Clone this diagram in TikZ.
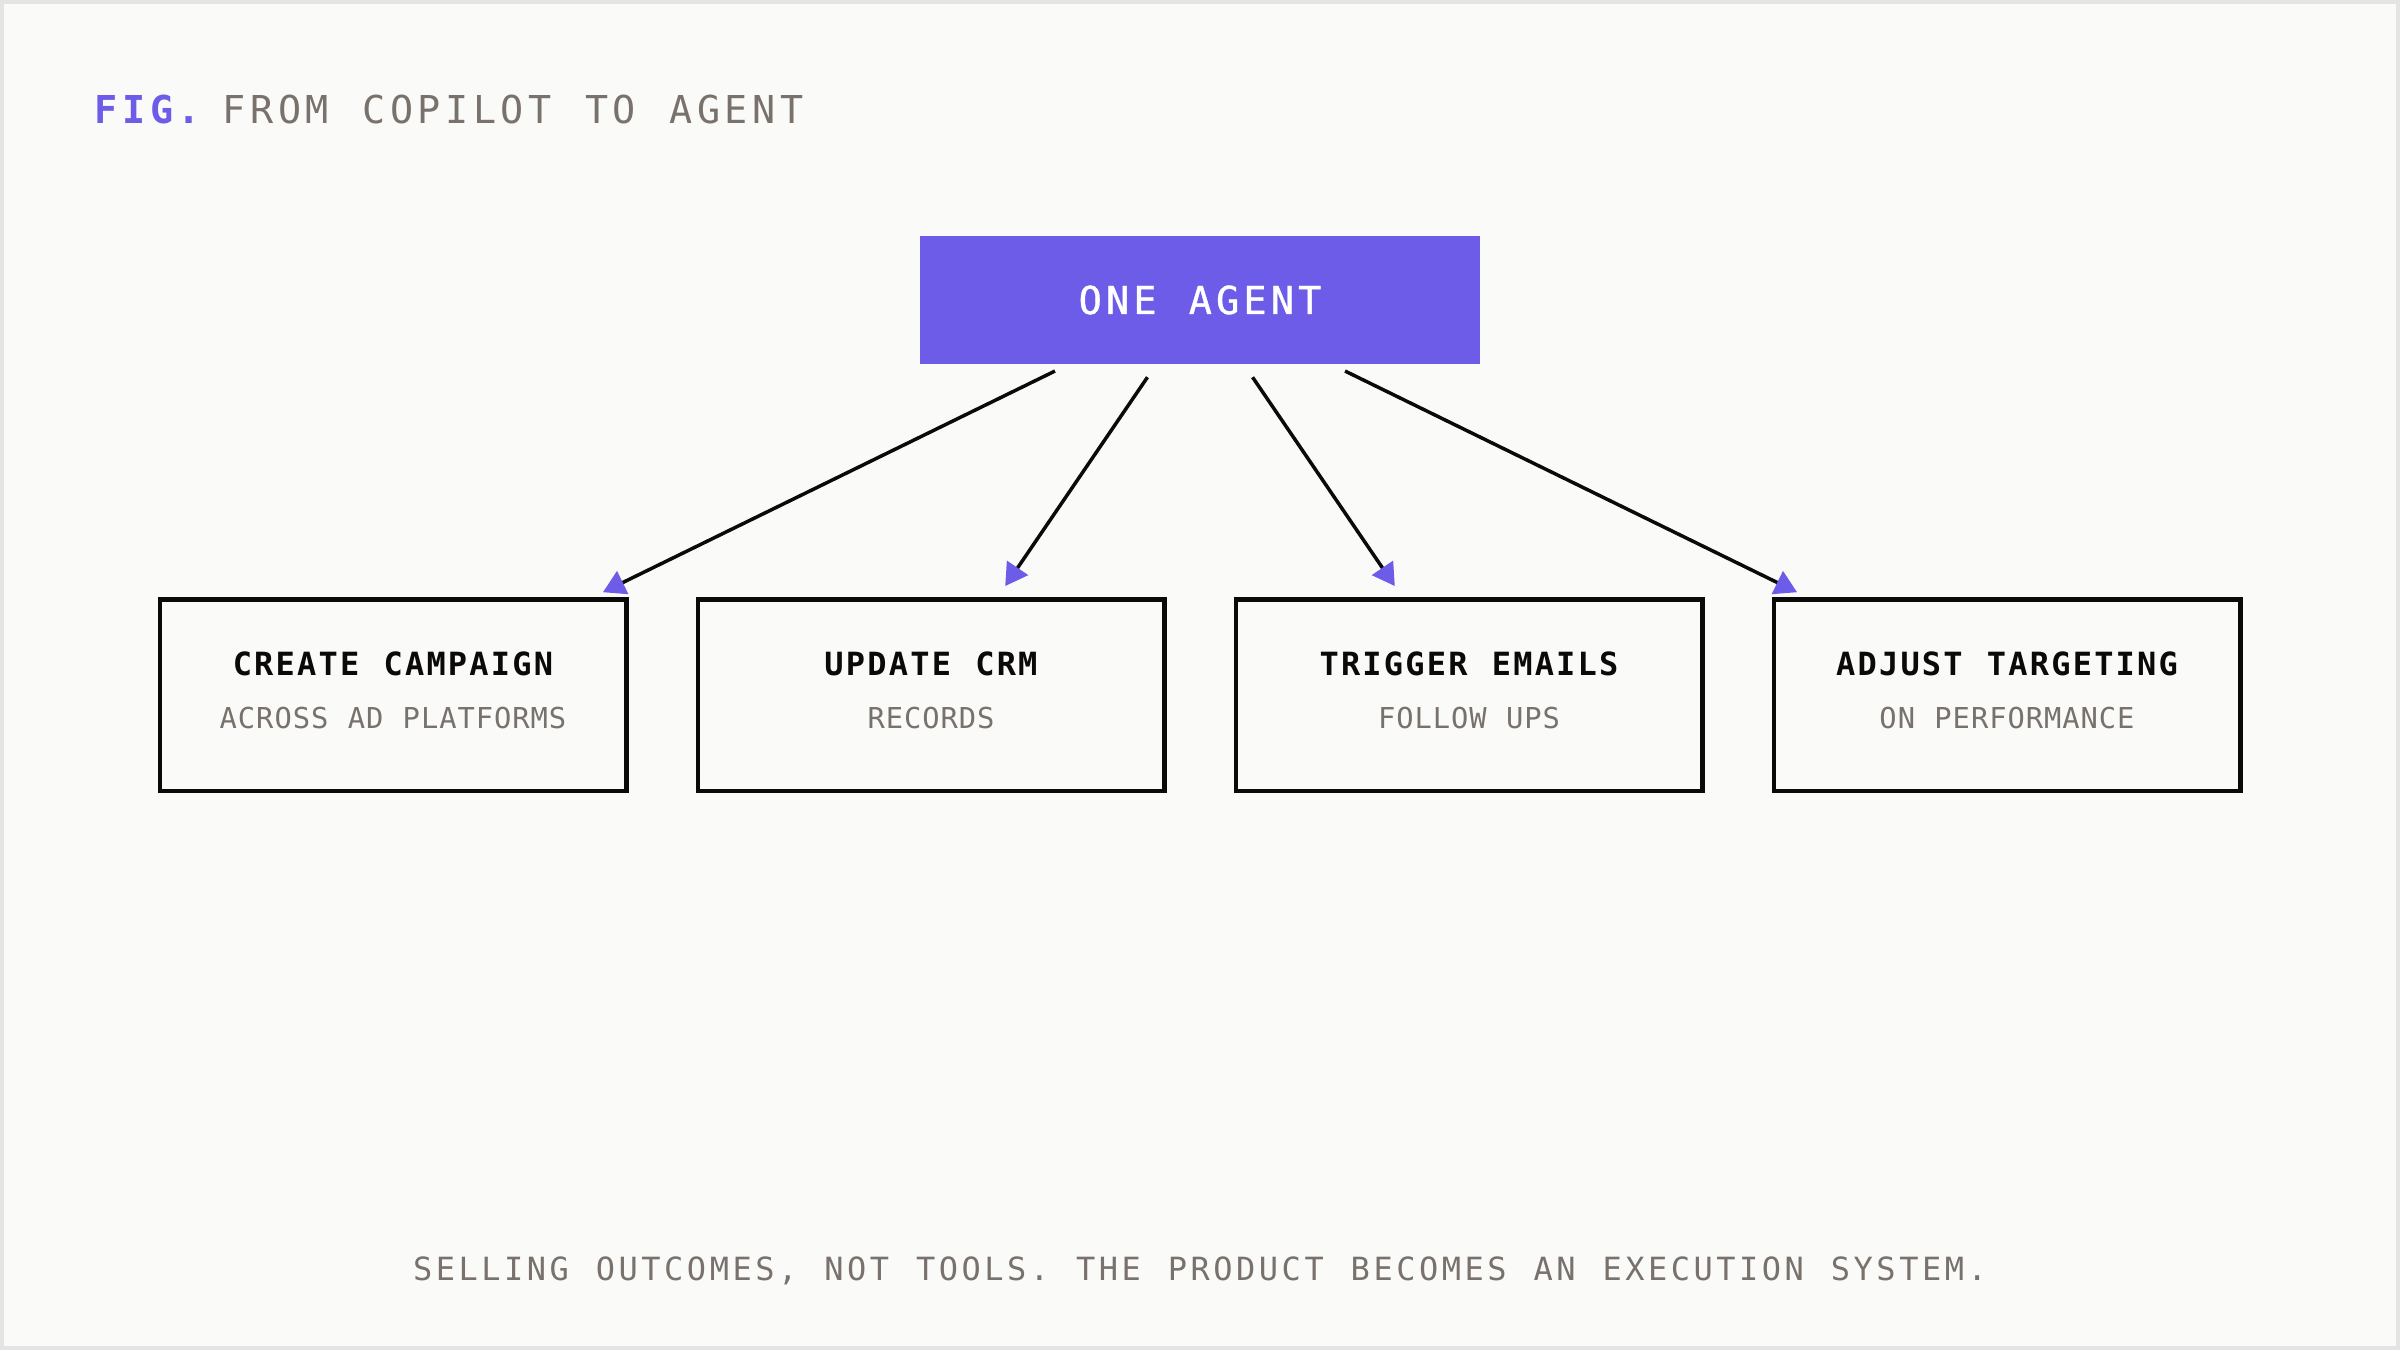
\documentclass[tikz,border=0pt]{standalone}
\usepackage{fontspec}
\usetikzlibrary{arrows.meta}
\setmainfont{DejaVu Sans Mono}
\newfontfamily\figfont[LetterSpace=12,WordSpace=1.2]{DejaVu Sans Mono}
\newfontfamily\agentfont[LetterSpace=11,WordSpace=1.18,FakeBold=1]{DejaVu Sans Mono}
\newfontfamily\boxtitlefont[LetterSpace=7,WordSpace=1.12]{DejaVu Sans Mono}
\newfontfamily\subfont[LetterSpace=3.3,WordSpace=1.06]{DejaVu Sans Mono}
\newfontfamily\capfont[LetterSpace=11,WordSpace=1.184]{DejaVu Sans Mono}
\definecolor{bgc}{HTML}{FAFAF8}
\definecolor{framec}{HTML}{E5E4E2}
\definecolor{purplec}{HTML}{6C5CE7}
\definecolor{grayc}{HTML}{78716C}
\definecolor{inkc}{HTML}{0C0A09}
\tikzset{
  agentbox/.style={fill=purplec, minimum width=56mm, minimum height=12.8mm,
    inner sep=0pt, outer sep=0pt, text=white,
    font=\agentfont\fontsize{10.93}{13}\selectfont},
  childbox/.style={draw=inkc, line width=0.45mm, minimum width=46.65mm,
    minimum height=19.15mm, inner sep=0pt, outer sep=0pt},
  ctitle/.style={anchor=base, inner sep=0pt, text=inkc,
    font=\boxtitlefont\bfseries\fontsize{9.1}{11}\selectfont},
  csub/.style={anchor=base, inner sep=0pt, text=grayc,
    font=\subfont\fontsize{8.19}{10}\selectfont},
  flow/.style={draw=inkc, line width=0.35mm, shorten <=1.6mm, shorten >=1.6mm,
    -{Triangle[length=2.2mm,width=2.5mm,color=purplec]}},
}
\begin{document}
\begin{tikzpicture}[x=0.1mm,y=-0.1mm]
\useasboundingbox (0,0) rectangle (2400,1350);
\fill[bgc] (0,0) rectangle (2400,1350);
\draw[framec, line width=0.4mm] (2,2) rectangle (2398,1348);
% title
\node[anchor=base west, inner sep=0pt, text=purplec,
  font=\figfont\bfseries\fontsize{10.93}{13}\selectfont] (fig) at (94,124) {FIG.};
\node[anchor=base west, inner sep=0pt, text=grayc,
  font=\figfont\fontsize{10.93}{13}\selectfont] (figtitle) at (222,124) {FROM COPILOT TO AGENT};
% agent
\node[agentbox] (agent) at (1200,300) {ONE AGENT};
% children
\node[childbox] (c1) at (393,695) {};
\node[childbox] (c2) at (931,695) {};
\node[childbox] (c3) at (1469,695) {};
\node[childbox] (c4) at (2007,695) {};
\node[ctitle] (t1) at (393,675) {CREATE CAMPAIGN};
\node[ctitle] (t2) at (931,675) {UPDATE CRM};
\node[ctitle] (t3) at (1469,675) {TRIGGER EMAILS};
\node[ctitle] (t4) at (2007,675) {ADJUST TARGETING};
\node[csub] (s1) at (393,728) {ACROSS AD PLATFORMS};
\node[csub] (s2) at (931,728) {RECORDS};
\node[csub] (s3) at (1469,728) {FOLLOW UPS};
\node[csub] (s4) at (2007,728) {ON PERFORMANCE};
% connectors
\draw[flow] (agent) -- (c1);
\draw[flow] (agent) -- (c2);
\draw[flow] (agent) -- (c3);
\draw[flow] (agent) -- (c4);
% caption
\node[anchor=base, inner sep=0pt, text=grayc,
  font=\capfont\fontsize{9.1}{11}\selectfont] (caption) at (1200,1280)
  {SELLING OUTCOMES, NOT TOOLS. THE PRODUCT BECOMES AN EXECUTION SYSTEM.};
\end{tikzpicture}
\end{document}
